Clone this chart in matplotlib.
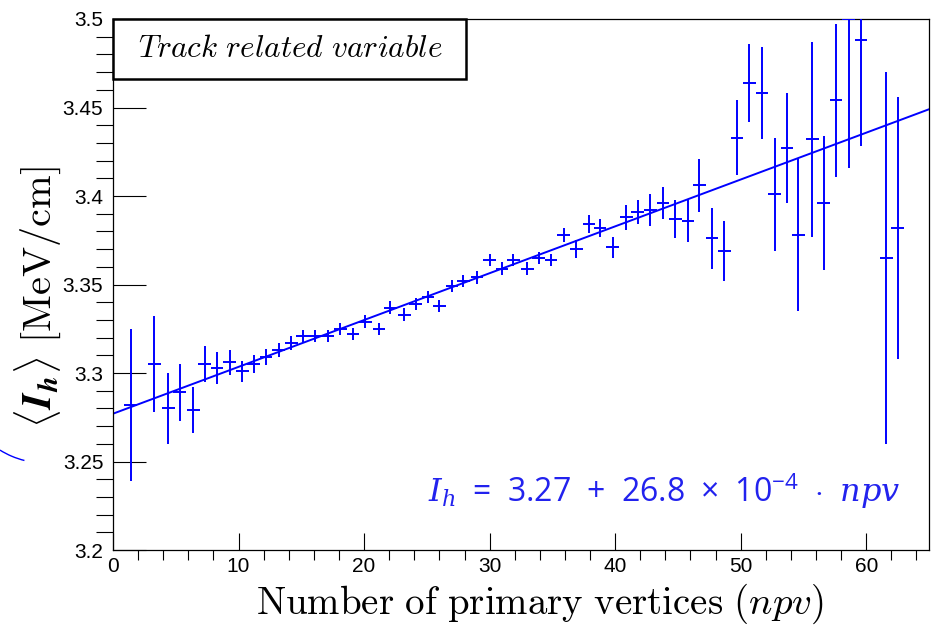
import matplotlib
matplotlib.use("Agg")
import matplotlib.pyplot as plt
from matplotlib.ticker import MultipleLocator
from matplotlib.patches import Arc, Rectangle

# profile points
npv = [1.4, 3.3, 4.4, 5.3, 6.4, 7.3, 8.3, 9.3, 10.3, 11.2,
       12.2, 13.2, 14.2, 15.1, 16.1, 17.1, 18.1, 19.1, 20.1, 21.2,
       22.1, 23.2, 24.1, 25.1, 26.0, 27.0, 27.9, 29.0, 30.0, 31.0,
       31.9, 33.0, 33.9, 34.9, 35.9, 36.9, 37.9, 38.8, 39.8, 40.9,
       41.8, 42.8, 43.8, 44.8, 45.8, 46.7, 47.7, 48.7, 49.7, 50.7,
       51.7, 52.7, 53.7, 54.6, 55.7, 56.6, 57.6, 58.6, 59.6, 61.6, 62.5]
ih = [3.282, 3.305, 3.280, 3.289, 3.279, 3.305, 3.303, 3.306, 3.301, 3.305,
      3.309, 3.313, 3.317, 3.321, 3.321, 3.321, 3.325, 3.322, 3.329, 3.325,
      3.337, 3.333, 3.339, 3.343, 3.338, 3.349, 3.352, 3.354, 3.364, 3.359,
      3.364, 3.359, 3.365, 3.364, 3.378, 3.370, 3.384, 3.382, 3.371, 3.388,
      3.391, 3.392, 3.396, 3.387, 3.386, 3.406, 3.376, 3.369, 3.433, 3.464,
      3.458, 3.401, 3.427, 3.378, 3.432, 3.396, 3.454, 3.500, 3.488, 3.365, 3.382]
ih_err = [0.043, 0.027, 0.020, 0.016, 0.013, 0.010, 0.009, 0.007, 0.006, 0.005,
          0.0045, 0.004, 0.004, 0.0035, 0.0035, 0.0035, 0.0035, 0.0035, 0.0035, 0.0035,
          0.0035, 0.0035, 0.0035, 0.0035, 0.0035, 0.0035, 0.0035, 0.0035, 0.0035, 0.0035,
          0.0035, 0.0035, 0.0035, 0.0035, 0.004, 0.005, 0.005, 0.005, 0.006, 0.007,
          0.007, 0.009, 0.009, 0.011, 0.012, 0.015, 0.017, 0.017, 0.021, 0.022,
          0.026, 0.032, 0.031, 0.043, 0.055, 0.038, 0.043, 0.084, 0.060, 0.105, 0.074]
npv_halfbin = 0.5

# straight-line fit, end points
fit_npv = [0, 65]
fit_ih = [3.277, 3.449]

BLUE = "#0000ff"

plt.rcParams["font.family"] = ["Liberation Sans", "DejaVu Sans"]
plt.rcParams["mathtext.fontset"] = "custom"
plt.rcParams["mathtext.rm"] = "Open Sans"
plt.rcParams["mathtext.it"] = "DejaVu Serif:italic"
plt.rcParams["mathtext.bfit"] = "DejaVu Serif:italic:bold"

fig = plt.figure(figsize=(9.32, 6.27), dpi=100)
ax = fig.add_axes([113 / 932, 1 - 550 / 627, (929 - 113) / 932, (550 - 19) / 627])

ax.errorbar(npv, ih, yerr=ih_err, xerr=npv_halfbin, fmt="none",
            ecolor=BLUE, elinewidth=1.4, capsize=0, zorder=3)
ax.plot(fit_npv, fit_ih, color=BLUE, lw=1.4, zorder=2)

ax.set_xlim(0, 65)
ax.set_ylim(3.2, 3.5)
ax.xaxis.set_major_locator(MultipleLocator(10))
ax.xaxis.set_minor_locator(MultipleLocator(2))
ax.yaxis.set_major_locator(MultipleLocator(0.05))
ax.yaxis.set_minor_locator(MultipleLocator(0.01))
ax.tick_params(axis="both", direction="in", top=False, right=False,
               labelsize=15, width=0.8)
ax.tick_params(axis="y", which="major", length=24, pad=7)
ax.tick_params(axis="y", which="minor", length=12, width=0.8)
ax.tick_params(axis="x", which="major", length=12, pad=5)
ax.tick_params(axis="x", which="minor", length=7, width=0.8)
ax.set_yticks([3.2, 3.25, 3.3, 3.35, 3.4, 3.45, 3.5])
ax.set_yticklabels(["3.2", "3.25", "3.3", "3.35", "3.4", "3.45", "3.5"])
for s in ax.spines.values():
    s.set_linewidth(0.9)

fig.text(540 / 932, 1 - 604 / 627, r"$\mathrm{Number\ of\ primary\ vertices\ }(npv)$",
         fontsize=28, math_fontfamily="cm", ha="center", va="center")
fig.text(38 / 932, 1 - 297 / 627,
         r"$\langle \mathbfit{I}_{\mathbfit{h}} \rangle\ [\mathrm{MeV/cm}]$",
         fontsize=29, math_fontfamily="cm", ha="center", va="center", rotation=90)

# label box in the top-left corner
ax.add_patch(Rectangle((0, 1 - 60 / 531), 353 / 816, 60 / 531, transform=ax.transAxes,
                       fc="white", ec="black", lw=1.8, zorder=5, clip_on=False))
ax.text(25 / 816, 1 - 30 / 531, r"$Track\ related\ variable$", transform=ax.transAxes,
        fontsize=22.5, math_fontfamily="cm", ha="left", va="center", zorder=6)

ax.text(0.965, 0.11, r"$I_h\ =\ 3.27\ +\ 26.8\ \times\ 10^{-4}\ \cdot\ npv$",
        transform=ax.transAxes, fontsize=23, color="#2222ee",
        ha="right", va="center", math_fontfamily="custom")

# stray blue arc at the far left of the original
fig.patches.append(Arc((45, 249), 170, 170, theta1=238, theta2=256,
                       transform=None, color=BLUE, lw=1.0))

fig.savefig("out.png", dpi=100)
